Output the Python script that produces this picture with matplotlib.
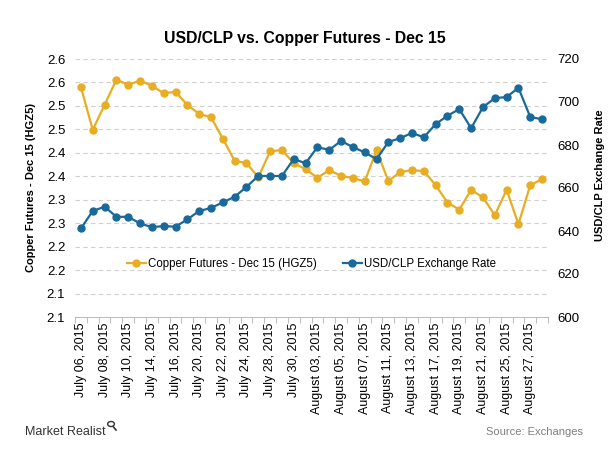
import matplotlib
matplotlib.use("Agg")
import matplotlib.pyplot as plt
import numpy as np

plt.rcParams['font.family'] = ['Liberation Sans', 'DejaVu Sans']

# trading days, Jul 06 - Aug 28 2015
dates = ["July 06, 2015", "July 07, 2015", "July 08, 2015", "July 09, 2015", "July 10, 2015",
         "July 13, 2015", "July 14, 2015", "July 15, 2015", "July 16, 2015", "July 17, 2015",
         "July 20, 2015", "July 21, 2015", "July 22, 2015", "July 23, 2015", "July 24, 2015",
         "July 27, 2015", "July 28, 2015", "July 29, 2015", "July 30, 2015", "July 31, 2015",
         "August 03, 2015", "August 04, 2015", "August 05, 2015", "August 06, 2015", "August 07, 2015",
         "August 10, 2015", "August 11, 2015", "August 12, 2015", "August 13, 2015", "August 14, 2015",
         "August 17, 2015", "August 18, 2015", "August 19, 2015", "August 20, 2015", "August 21, 2015",
         "August 24, 2015", "August 25, 2015", "August 26, 2015", "August 27, 2015", "August 28, 2015"]

copper = [2.540, 2.449, 2.502, 2.556, 2.545, 2.554, 2.543, 2.527, 2.530, 2.502,
          2.483, 2.476, 2.430, 2.383, 2.378, 2.348, 2.403, 2.406, 2.378, 2.365,
          2.347, 2.363, 2.351, 2.346, 2.339, 2.405, 2.340, 2.359, 2.363, 2.361,
          2.331, 2.294, 2.279, 2.321, 2.305, 2.267, 2.321, 2.248, 2.331, 2.344]

usdclp = [641.2, 649.3, 651.3, 646.6, 646.6, 643.5, 641.8, 642.3, 642.0, 645.4,
          649.3, 650.7, 653.3, 655.9, 660.5, 665.6, 665.6, 665.6, 673.5, 671.5,
          679.0, 677.7, 681.9, 679.0, 676.6, 673.4, 681.4, 683.2, 685.6, 683.6,
          689.7, 693.6, 696.7, 687.8, 697.6, 701.8, 702.3, 706.6, 693.0, 692.0]

left_ticks = [2.05, 2.10, 2.15, 2.20, 2.25, 2.30, 2.35, 2.40, 2.45, 2.50, 2.55, 2.60]
left_labels = ["2.1", "2.1", "2.2", "2.2", "2.3", "2.3", "2.4", "2.4", "2.5", "2.5", "2.6", "2.6"]
right_ticks = [600, 620, 640, 660, 680, 700, 720]

gold = "#E8AD22"
blue = "#19699B"
grid_c = "#D0D0D0"

fig = plt.figure(figsize=(6.13, 4.54), dpi=100)
ax = fig.add_axes([75/613, 137/454, 473/613, 258/454])
ax2 = ax.twinx()

x = np.arange(len(dates))
l1, = ax.plot(x, copper, color=gold, lw=1.6, marker='o', ms=5, label="Copper Futures - Dec 15 (HGZ5)")
l2, = ax2.plot(x, usdclp, color=blue, lw=1.6, marker='o', ms=5, label="USD/CLP Exchange Rate")

ax.set_xlim(-0.5, len(dates) - 0.5)
ax.set_ylim(2.05, 2.60)
ax2.set_ylim(600, 720)

ax.set_yticks(left_ticks)
ax.set_yticklabels(left_labels)
ax2.set_yticks(right_ticks)
for t in left_ticks[1:]:
    ax.axhline(t, color=grid_c, lw=0.8, ls=(0, (4, 3)), zorder=0)

ax.set_xticks(x[::2])
ax.set_xticklabels(dates[::2], rotation=90, fontsize=9)
ax.set_xticks(np.arange(-0.5, len(dates), 1), minor=True)
ax.tick_params(axis='x', which='major', length=0, pad=4)
ax.tick_params(axis='x', which='minor', length=4, color="#BFBFBF", width=0.8)
ax.tick_params(axis='y', length=0, labelsize=9.5, pad=7)
ax2.tick_params(axis='y', length=0, labelsize=9.5, pad=7)

for a in (ax, ax2):
    for s in ('top', 'left', 'right'):
        a.spines[s].set_visible(False)
    a.spines['bottom'].set_color("#BFBFBF")
ax2.spines['bottom'].set_visible(False)

ax.set_ylabel("Copper Futures - Dec 15 (HGZ5)", fontsize=8, fontweight='bold')
ax2.set_ylabel("USD/CLP Exchange Rate", fontsize=8, fontweight='bold')
ax.yaxis.set_label_coords(-0.082, 0.5)
ax2.yaxis.set_label_coords(1.1, 0.55)

ax2.legend([l1, l2], [l1.get_label(), l2.get_label()], loc='center',
           bbox_to_anchor=(0.5, 0.205), ncol=2, frameon=False, fontsize=8.3,
           handlelength=1.7, handletextpad=0.2, columnspacing=2.2)

fig.text(0.497, 0.916, "USD/CLP vs. Copper Futures - Dec 15", ha='center', va='center',
         fontsize=11.3, fontweight='bold')
fig.text(25/613, 1 - 432/454, "Market Realist", ha='left', va='center', fontsize=9,
         color="#333333")
# small magnifier icon after the logo text
fig.add_artist(plt.Circle((111/613, 1 - 424/454), 0.0055, transform=fig.transFigure,
                          fill=False, lw=1.0, color="#333333"))
fig.add_artist(plt.Line2D([113.5/613, 116/613], [1 - 427/454, 1 - 430/454],
                          transform=fig.transFigure, lw=1.2, color="#333333"))
fig.text(583/613, 1 - 432/454, "Source: Exchanges", ha='right', va='center', fontsize=8,
         color="#7F7F7F")

fig.savefig("out.png", dpi=100)
